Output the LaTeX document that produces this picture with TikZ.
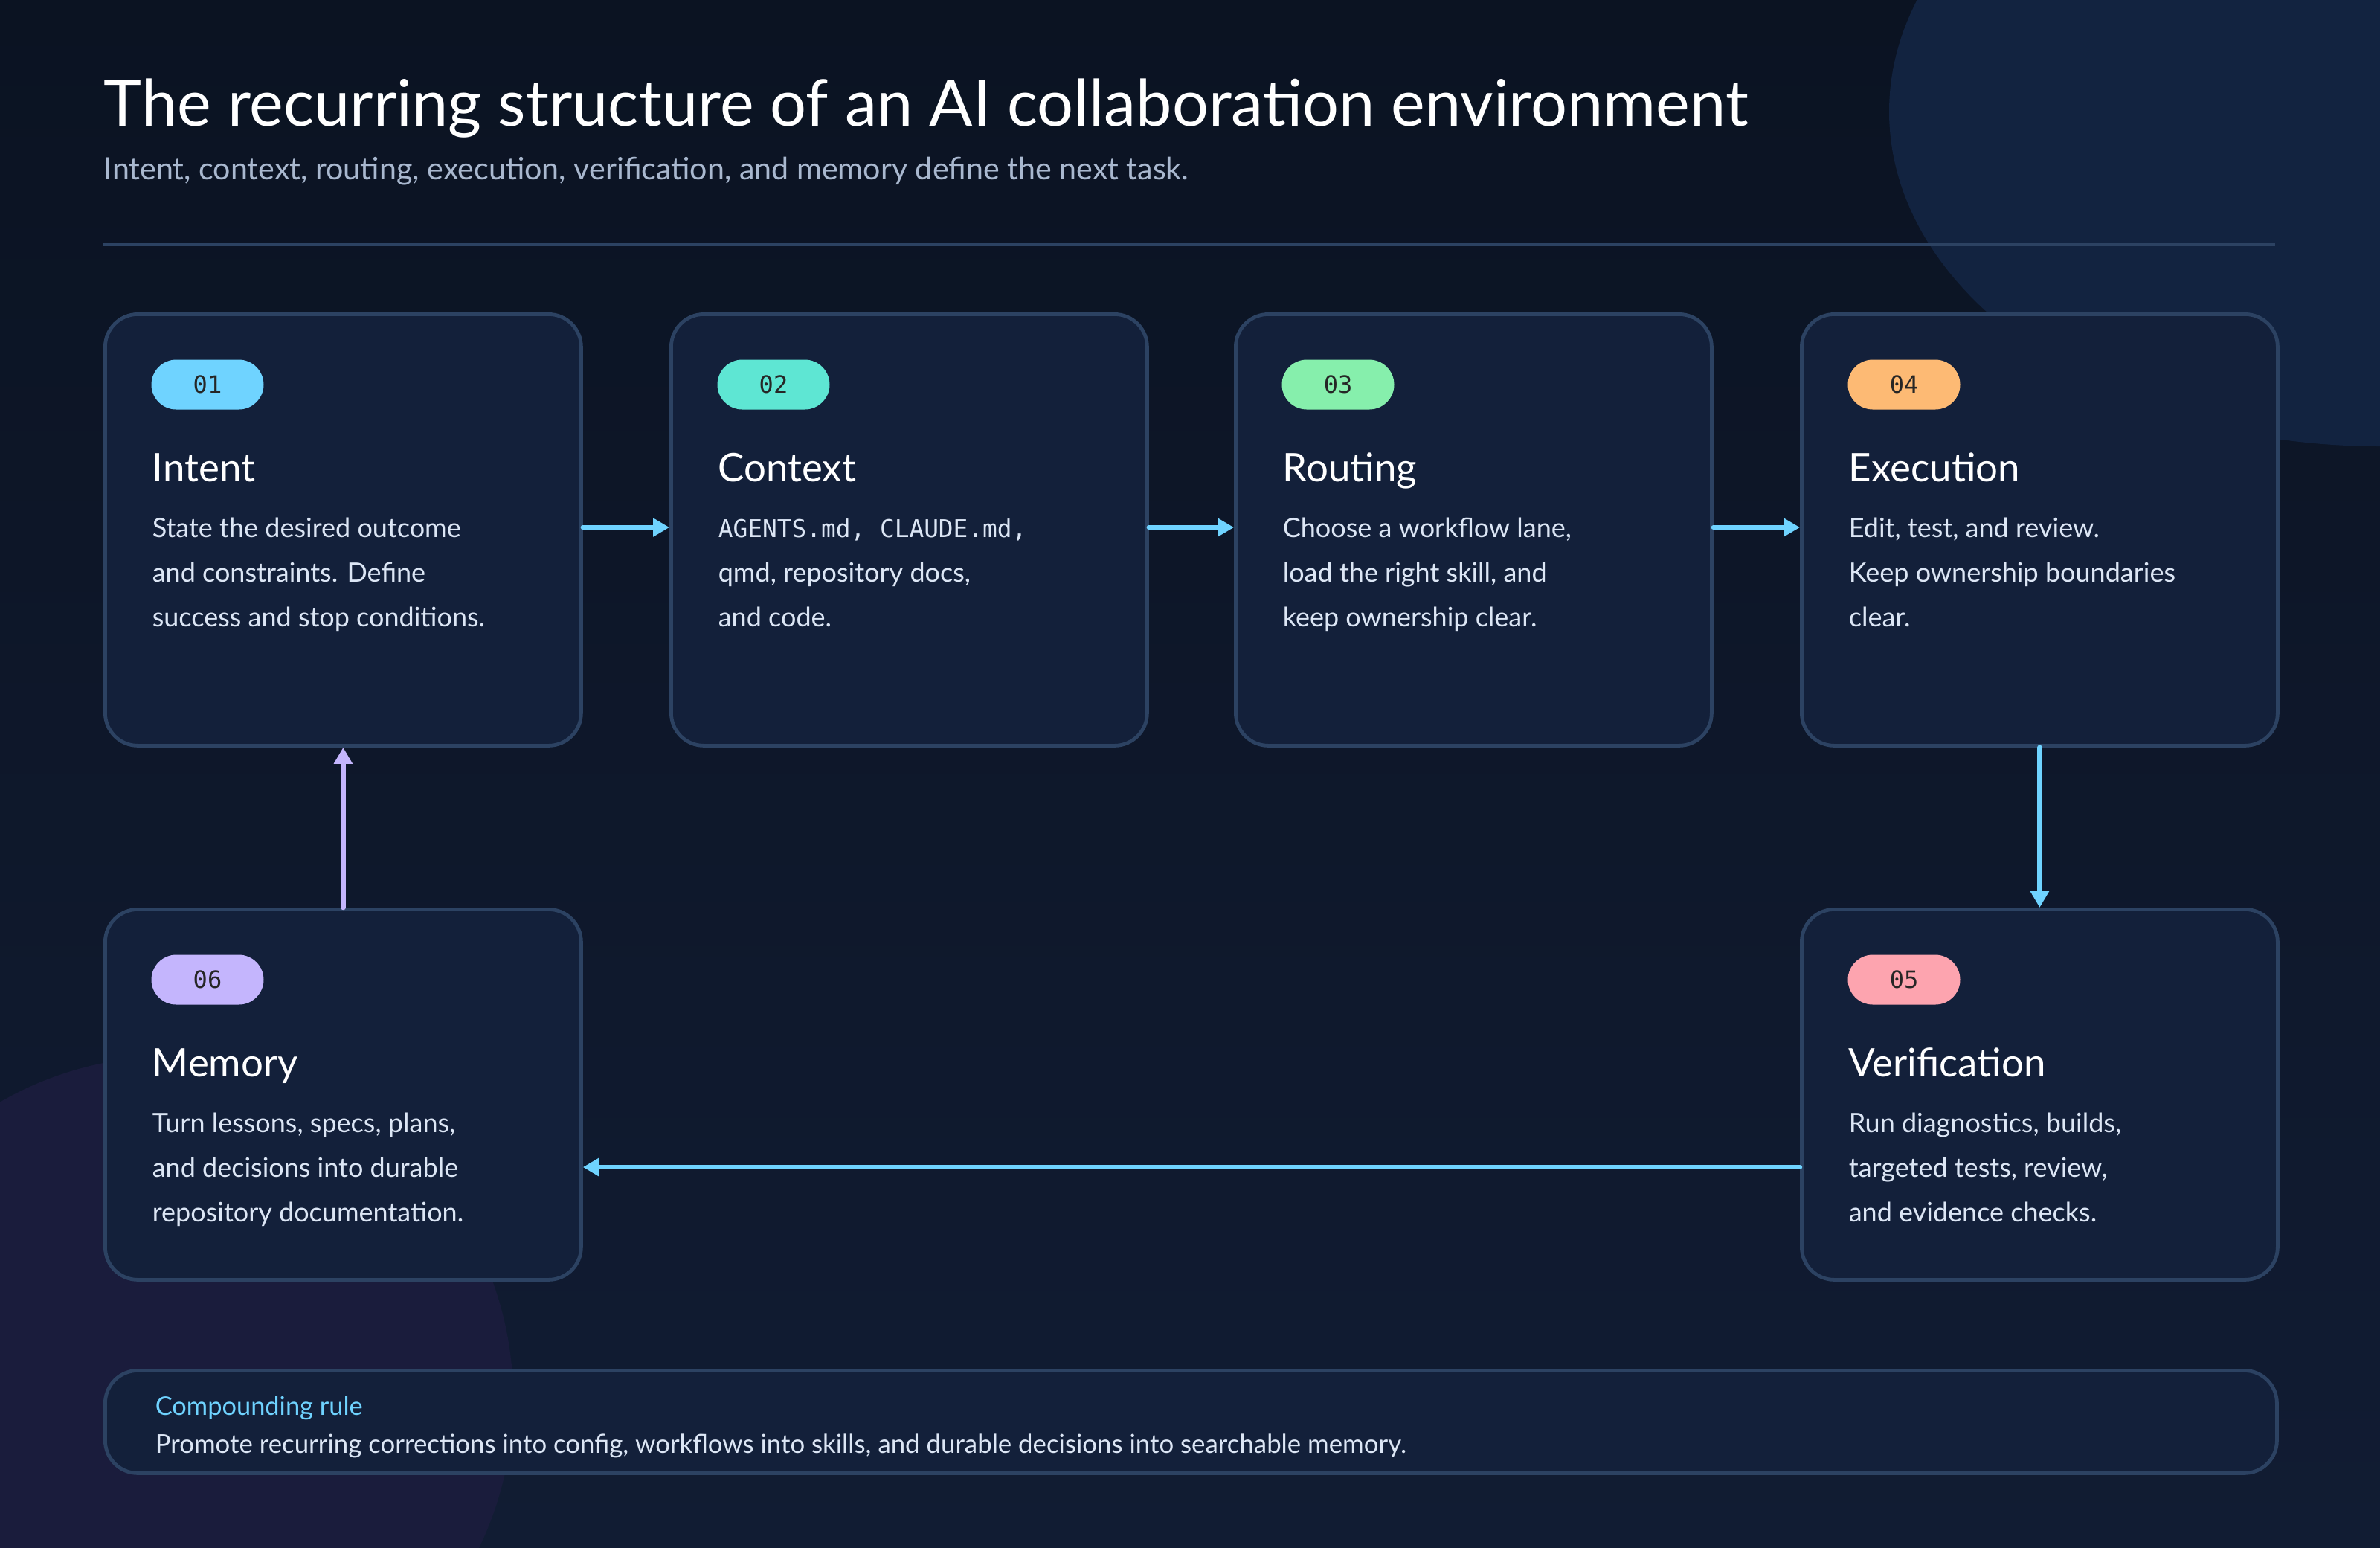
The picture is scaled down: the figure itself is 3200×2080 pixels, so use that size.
\documentclass[tikz,border=0pt]{standalone}
\usepackage{fontspec}
\setmainfont{Lato}
\setmonofont{DejaVu Sans Mono}
\usetikzlibrary{arrows.meta,calc}
\definecolor{bgA}{HTML}{0B1322}
\definecolor{bgB}{HTML}{111C33}
\definecolor{boxfill}{HTML}{13203A}
\definecolor{boxline}{HTML}{2C4262}
\definecolor{cA}{HTML}{6FD3FF}
\definecolor{cB}{HTML}{5EE6D3}
\definecolor{cC}{HTML}{86EFAC}
\definecolor{cD}{HTML}{FDBA74}
\definecolor{cE}{HTML}{FDA4AF}
\definecolor{cF}{HTML}{C4B5FD}
\definecolor{txt}{HTML}{DCE6F5}
\definecolor{sub}{HTML}{A9B8CF}
\definecolor{circA}{HTML}{122340}
\definecolor{circB}{HTML}{1A1C3C}
\tikzset{
  card/.style={draw=boxline,line width=1.2pt,fill=boxfill,rounded corners=11pt},
  badge/.style={rounded corners=8.4pt,minimum width=37.75pt,minimum height=16.75pt,inner sep=0pt,font=\ttfamily\fontsize{8}{8}\selectfont,text=black!85},
  head/.style={anchor=base west,inner sep=0pt,text=white,font=\fontsize{13.2}{13.2}\selectfont},
  body/.style={anchor=base west,inner sep=0pt,text=txt,font=\fontsize{9}{9}\selectfont},
  flow/.style={draw=cA,line width=1.6pt,line cap=round,-{Triangle[length=5.5pt,width=6pt]}},
}
\newcommand{\mkcard}[8]{%
  \node[card,anchor=north west,minimum width=160pt,minimum height=#4,inner sep=0pt] (#1) at (#2,#3) {};
  \node[badge,fill=#5] (#1b) at ($(#2,#3)+(140,97)$) {#6};
  \node[head] (#1h) at ($(#2,#3)+(65,227)$) {#7};
  \foreach \l [count=\i] in {#8} {\node[body] (#1l\i) at ($(#2,#3)+(65,242+60*\i)$) {\l};}
}
\begin{document}
\begin{tikzpicture}[x=0.25pt,y=-0.25pt]
\useasboundingbox (0,0) rectangle (3200,2080);
\shade[top color=bgA,bottom color=bgB] (0,0) rectangle (3200,2080);
\begin{scope}
\clip (0,0) rectangle (3200,2080);
\fill[circA] (3200,150) ellipse [x radius=660, y radius=450];
\fill[circB] (230,1880) circle (460);
\end{scope}
\node[anchor=base west,inner sep=0pt,text=white,font=\fontsize{21.6}{21.6}\selectfont] (title) at (139,169) {The recurring structure of an AI collaboration environment};
\node[anchor=base west,inner sep=0pt,text=sub,font=\fontsize{10.3}{10.3}\selectfont] (subtitle) at (139,241) {Intent, context, routing, execution, verification, and memory define the next task.};
\draw[boxline,line width=1pt] (139,329) -- (3059,329);
\mkcard{c1}{139}{420}{145pt}{cA}{01}{Intent}{State the desired outcome,and constraints. Define,success and stop conditions.}
\mkcard{c2}{900}{420}{145pt}{cB}{02}{Context}{{\ttfamily\fontsize{8.2}{8.2}\selectfont AGENTS.md, CLAUDE.md,},qmd{,} repository docs{,},and code.}
\mkcard{c3}{1659}{420}{145pt}{cC}{03}{Routing}{Choose a workflow lane{,},load the right skill{,} and,keep ownership clear.}
\mkcard{c4}{2420}{420}{145pt}{cD}{04}{Execution}{Edit{,} test{,} and review.,Keep ownership boundaries,clear.}
\mkcard{c6}{139}{1220}{124.5pt}{cF}{06}{Memory}{Turn lessons{,} specs{,} plans{,},and decisions into durable,repository documentation.}
\mkcard{c5}{2420}{1220}{124.5pt}{cE}{05}{Verification}{Run diagnostics{,} builds{,},targeted tests{,} review{,},and evidence checks.}
\draw[flow] (c1.east |- 0,709) -- (c2.west |- 0,709);
\draw[flow] (c2.east |- 0,709) -- (c3.west |- 0,709);
\draw[flow] (c3.east |- 0,709) -- (c4.west |- 0,709);
\draw[flow] (c4.south) -- (c5.north);
\draw[flow] (c5.west |- 0,1569) -- (c6.east |- 0,1569);
\draw[flow,draw=cF] (c6.north) -- (c1.south);
\node[card,anchor=north west,minimum width=730pt,minimum height=34.5pt,inner sep=0pt] (rule) at (139,1840) {};
\node[anchor=base west,inner sep=0pt,text=cA,font=\fontsize{8.6}{8.6}\selectfont] (ruleh) at (208,1902) {Compounding rule};
\node[anchor=base west,inner sep=0pt,text=txt,font=\fontsize{8.7}{8.7}\selectfont] (rulet) at (208,1953) {Promote recurring corrections into config, workflows into skills, and durable decisions into searchable memory.};
\end{tikzpicture}
\end{document}
